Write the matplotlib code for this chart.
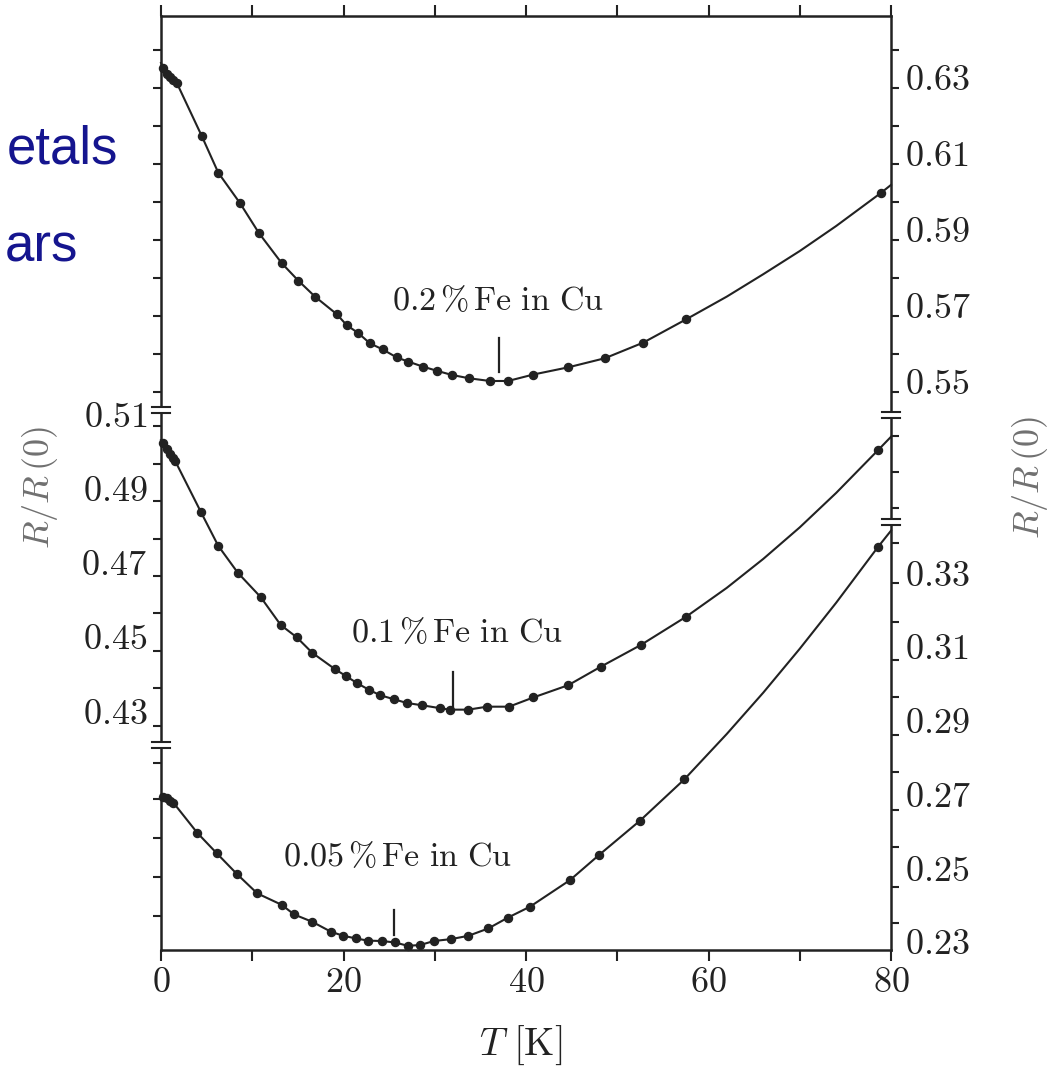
import matplotlib.pyplot as plt
from matplotlib.patches import Rectangle

plt.rcParams['mathtext.fontset'] = 'cm'

# 0.2 % Fe in Cu  (right-hand scale, top)
top_T = [0.25, 0.62, 0.99, 1.35, 1.72, 4.46, 6.28, 8.66, 10.74, 13.23, 15.05, 16.88,
         19.25, 20.35, 21.62, 22.90, 24.30, 25.83, 27.10, 28.68, 30.21, 31.86, 33.79,
         36.05, 38.03, 40.80, 44.64, 48.66, 52.85, 57.53, 78.9]
top_R = [0.6323, 0.6308, 0.6299, 0.6292, 0.6285, 0.6145, 0.6048, 0.5968, 0.5889, 0.5810,
         0.5764, 0.5722, 0.5676, 0.5647, 0.5626, 0.5599, 0.5583, 0.5562, 0.5551, 0.5538,
         0.5527, 0.5516, 0.5507, 0.5500, 0.5500, 0.5517, 0.5536, 0.5560, 0.5601, 0.5662,
         0.5995]
# points (ends and the gap between the last dots)
top_fit_T = [0.0, 62.0, 66.0, 70.0, 74.0, 80.0]
top_fit_R = [0.6337, 0.5722, 0.5781, 0.5842, 0.5908, 0.6016]

# 0.1 % Fe in Cu  (left-hand scale, middle)
mid_T = [0.25, 0.62, 0.99, 1.35, 1.53, 4.38, 6.28, 8.41, 10.93, 13.12, 14.87, 16.58,
         19.07, 20.24, 21.51, 22.83, 24.00, 25.53, 26.93, 28.55, 30.58, 31.62, 33.68,
         35.73, 38.14, 40.82, 44.64, 48.22, 52.57, 57.53, 78.58]
mid_R = [0.5018, 0.5002, 0.4990, 0.4978, 0.4972, 0.4833, 0.4742, 0.4670, 0.4604, 0.4529,
         0.4496, 0.4454, 0.4410, 0.4392, 0.4372, 0.4354, 0.4340, 0.4329, 0.4319, 0.4313,
         0.4305, 0.4301, 0.4301, 0.4309, 0.4309, 0.4334, 0.4367, 0.4417, 0.4475, 0.4551,
         0.5000]
mid_fit_T = [0.0, 62.0, 66.0, 70.0, 74.0, 80.0]
mid_fit_R = [0.5027, 0.4629, 0.4707, 0.4792, 0.4885, 0.5036]

# 0.05 % Fe in Cu  (right-hand scale, bottom)
bot_T = [0.25, 0.62, 0.99, 1.35, 3.98, 6.10, 8.30, 10.55, 13.23, 14.58, 16.58, 18.63,
         19.98, 21.37, 22.65, 24.19, 25.64, 27.04, 28.38, 29.92, 31.75, 33.68, 35.87,
         37.99, 40.44, 44.82, 48.00, 52.49, 57.35, 78.58]
bot_R = [0.2691, 0.2687, 0.2680, 0.2675, 0.2593, 0.2538, 0.2482, 0.2429, 0.2398, 0.2372,
         0.2352, 0.2325, 0.2314, 0.2307, 0.2301, 0.2300, 0.2296, 0.2287, 0.2289, 0.2300,
         0.2305, 0.2314, 0.2334, 0.2363, 0.2393, 0.2465, 0.2533, 0.2626, 0.2738, 0.3368]
bot_fit_T = [0.0, 62.0, 66.0, 70.0, 74.0, 80.0]
bot_fit_R = [0.2696, 0.2861, 0.2973, 0.3092, 0.3217, 0.3412]

# position of the resistance minimum (little vertical bar) for each sample
min_T = [37.04, 31.97, 25.53]
min_R_lo = [0.5524, 0.4308, 0.2316]
min_R_hi = [0.5613, 0.4402, 0.2384]

labels = ['0.2\\,\\%\\,\\mathrm{Fe\\ in\\ Cu}', '0.1\\,\\%\\,\\mathrm{Fe\\ in\\ Cu}',
          '0.05\\,\\%\\,\\mathrm{Fe\\ in\\ Cu}']
label_T = [36.9, 32.4, 25.9]
label_R = [0.5713, 0.4510, 0.2528]

top_ticklabels = [0.55, 0.57, 0.59, 0.61, 0.63]
mid_ticklabels = [0.43, 0.45, 0.47, 0.49, 0.51]
bot_ticklabels = [0.23, 0.25, 0.27, 0.29, 0.31, 0.33]

ink = '#222222'
W, H = 1057, 1068
fig = plt.figure(figsize=(W / 100, H / 100), dpi=100)
rect = [161 / W, 1 - 950 / H, 730 / W, 934 / H]

lims = {'top': (0.40026, 0.64605), 'mid': (0.36536, 0.61694), 'bot': (0.22756, 0.48068)}


def side_axis(scale, side, ticks, ticklabels=None):
    a = fig.add_axes(rect)
    a.set_xlim(0, 80)
    a.set_ylim(*lims[scale])
    a.patch.set_visible(False)
    for s in a.spines.values():
        s.set_visible(False)
    a.xaxis.set_visible(False)
    a.yaxis.set_ticks_position(side)
    a.set_yticks(ticks, minor=True)
    if ticklabels:
        a.set_yticks(ticklabels, ['$%.2f$' % v for v in ticklabels])
    else:
        a.set_yticks([])
    a.tick_params(axis='y', which='major', length=0, labelsize=26, pad=10,
                  labelcolor=ink)
    a.tick_params(axis='y', which='minor', length=6, width=1.5, color=ink,
                  direction='out')
    return a


# main frame
ax = fig.add_axes(rect)
ax.set_xlim(0, 80)
ax.set_ylim(*lims['mid'])
ax.set_yticks([])
for s in ax.spines.values():
    s.set_linewidth(1.8)
    s.set_color(ink)
ax.set_xticks([0, 20, 40, 60, 80], ['$0$', '$20$', '$40$', '$60$', '$80$'])
ax.set_xticks([10, 30, 50, 70], minor=True)
ax.tick_params(axis='x', which='both', top=True, direction='out', length=8,
               width=1.5, color=ink, labelsize=26, pad=3, labelcolor=ink)

ax_top_l = side_axis('top', 'left', [0.547 + 0.01 * k for k in range(10)])
ax_top_r = side_axis('top', 'right', [0.547 + 0.01 * k for k in range(10)], top_ticklabels)
ax_mid_l = side_axis('mid', 'left', [0.5065 - 0.0101 * k for k in range(9)], mid_ticklabels)
ax_mid_r = side_axis('mid', 'right', [0.5038, 0.4940, 0.4844])
ax_bot_l = side_axis('bot', 'left', [0.2782, 0.2685, 0.2579, 0.2473, 0.2368])
ax_bot_r = side_axis('bot', 'right', [0.3379, 0.3270, 0.3164, 0.3062, 0.2961, 0.2858,
                                      0.2758, 0.2655, 0.2555, 0.2446, 0.2349],
                     bot_ticklabels)

series = [(ax_top_l, top_T, top_R, top_fit_T, top_fit_R),
          (ax_mid_l, mid_T, mid_R, mid_fit_T, mid_fit_R),
          (ax_bot_l, bot_T, bot_R, bot_fit_T, bot_fit_R)]
for i, (a, T, R, fT, fR) in enumerate(series):
    line = sorted(zip(T + fT, R + fR))
    a.plot([p[0] for p in line], [p[1] for p in line], '-', color=ink, lw=1.5,
           clip_on=False, zorder=3)
    a.plot(T, R, 'o', color=ink, ms=5.8, clip_on=False, zorder=4)
    a.plot([min_T[i], min_T[i]], [min_R_lo[i], min_R_hi[i]], '-', color=ink, lw=1.6)
    a.text(label_T[i], label_R[i], '$' + labels[i] + '$', fontsize=24.5, color=ink,
           ha='center', va='center')


# axis-break marks on the frame
def draw_break(xf, yf):
    ax.add_patch(Rectangle((xf - 0.012, yf - 0.0032), 0.024, 0.0064, transform=ax.transAxes,
                           facecolor='white', edgecolor='none', clip_on=False, zorder=5))
    for dy in (-0.0032, 0.0032):
        ax.plot([xf - 0.013, xf + 0.013], [yf + dy, yf + dy], color=ink, lw=1.5,
                transform=ax.transAxes, clip_on=False, zorder=6)


for xf, yf in [(0, 0.5782), (0, 0.2195), (1, 0.5728), (1, 0.4582)]:
    draw_break(xf, yf)

fig.text(40 / W, 1 - 488 / H, '$R/R\\,(0)$', rotation=90, fontsize=26, color='#707070',
         ha='center', va='center')
fig.text(1030 / W, 1 - 478 / H, '$R/R\\,(0)$', rotation=90, fontsize=26, color='#707070',
         ha='center', va='center')
fig.text(521 / W, 1 - 1045 / H, '$T\\ [\\mathrm{K}]$', fontsize=28, color=ink,
         ha='center', va='center')

# cut-off slide text at the left edge
fig.text(118 / W, 1 - 150 / H, 'etals', fontsize=38, color='#15158f',
         family='Liberation Sans', ha='right', va='center')
fig.text(78 / W, 1 - 248 / H, 'ars', fontsize=38, color='#15158f',
         family='Liberation Sans', ha='right', va='center')

fig.savefig('out.png', dpi=100)
